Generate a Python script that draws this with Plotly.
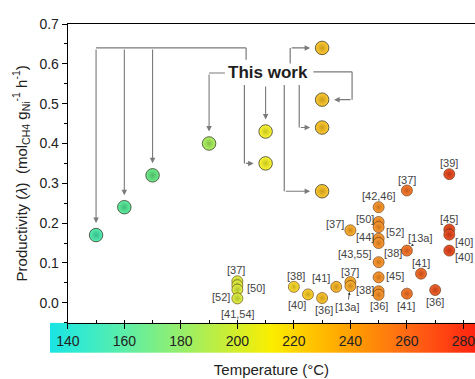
import numpy as np
import plotly.graph_objects as go

# ---------------- data ----------------
# "This work" catalysts: temperature (°C) and productivity
tw_T = [150, 160, 170, 190, 210, 210, 230, 230, 230, 230]
tw_v = [0.17, 0.24, 0.32, 0.40, 0.43, 0.35, 0.64, 0.51, 0.44, 0.28]

# literature catalysts
lit_T = [200, 200, 200, 200, 220, 225, 230, 235, 240, 240, 240,
         250, 250, 250, 250, 250, 250, 250, 250, 250,
         260, 260, 265, 260, 270, 275, 275, 275, 275]
lit_v = [0.054, 0.044, 0.033, 0.011, 0.040, 0.021, 0.012, 0.040, 0.052, 0.042, 0.182,
         0.240, 0.203, 0.190, 0.161, 0.150, 0.102, 0.064, 0.029, 0.020,
         0.282, 0.131, 0.073, 0.023, 0.032, 0.323, 0.184, 0.171, 0.131]

# reference labels: index of literature point, label text
label_point = [0, 1, 2, 3, 4, 5, 6, 7, 8, 9, 10,
               11, 12, 13, 14, 16, 17, 18, 19,
               20, 21, 21, 22, 23, 24, 25, 26, 27, 28]
label_text = ['[37]', '[50]', '[52]', '[41,54]', '[38]', '[40]', '[36]', '[41]', '[37]', '[13a]', '[37]',
              '[42,46]', '[50]', '[52]', '[44]', '[43,55]', '[45]', '[38]', '[36]',
              '[37]', '[38]', '[13a]', '[41]', '[41]', '[36]', '[39]', '[45]', '[40]', '[40]']

x_ticks = [140, 160, 180, 200, 220, 240, 260, 280]
y_ticks = [0.0, 0.1, 0.2, 0.3, 0.4, 0.5, 0.6, 0.7]

# ---------------- styling / layout ----------------
# label offsets in px (dx right, dy down, arrow?)
label_offset = [(-1, -11, 0), (19, 3, 0), (-16, 7, 0), (1, 16, 0), (2, -11, 0), (-11, 11, 0),
                (2, 11.5, 0), (-15, -9, 0), (0, -10, 0), (-3, 21, 1), (-15, -6, 0),
                (0, -11, 0), (-14, -3, 0), (16, 5, 0), (-14, -2, 0), (-24, -8, 1), (16, -1, 0),
                (-14, -1, 0), (0, 11, 0),
                (0, -10, 0), (-14, 2, 0), (13, -13, 1), (0, -11, 0), (-1, 12.5, 0), (0, 12, 0),
                (0, -11, 0), (0, -11, 0), (15, 7, 0), (15, 6, 0)]

X_LO, X_HI = 140, 284.1
STRIP_LO = 133.7
W, H = 475, 379
ML, MR, MT, MB = 50, 0, 24, 26
plot_w = W - ML - MR
plot_h = H - MT - MB
x_dom0 = (67.8 - ML) / plot_w
strip_frac = 30.3 / plot_h

marker_stops = [(140, '#36d8b4'), (150, '#3ed69a'), (160, '#48d68a'), (170, '#58d474'),
                (190, '#98dc50'), (200, '#c8dc30'), (210, '#e4e020'), (220, '#e8c81e'),
                (230, '#e8b21c'), (240, '#e89c1e'), (250, '#e8841e'), (260, '#e2661c'),
                (270, '#da4c18'), (280, '#d22c10')]

strip_stops = [(STRIP_LO, '#1ae4e4'), (145, '#34eace'), (160, '#5ceea8'), (180, '#96ee6c'),
               (200, '#d4ee2a'), (212, '#faee00'), (225, '#ffc800'), (240, '#ffa000'),
               (260, '#ff6a14'), (X_HI, '#ff2410')]
strip_scale = [[(t - STRIP_LO) / (X_HI - STRIP_LO), c] for t, c in strip_stops]


def hex2rgb(h):
    h = h.lstrip('#')
    return [int(h[i:i + 2], 16) for i in (0, 2, 4)]


def temp_color(t, scale_f=1.0, lift=0):
    ts = [s[0] for s in marker_stops]
    rgb = np.array([hex2rgb(s[1]) for s in marker_stops], dtype=float)
    c = [np.interp(t, ts, rgb[:, k]) for k in range(3)]
    c = [min(255, max(0, v * scale_f + lift)) for v in c]
    return 'rgb(%d,%d,%d)' % tuple(int(round(v)) for v in c)


FONT = 'Arial, Liberation Sans, sans-serif'
GRAY = '#7a7a7a'

fig = go.Figure()

# colour strip (first subplot, so the main axes draw on top of it)
strip_T = np.linspace(STRIP_LO, X_HI, 301)
fig.add_trace(go.Heatmap(x=strip_T, y=[0], z=[strip_T], colorscale=strip_scale,
                         zmin=STRIP_LO, zmax=X_HI, showscale=False,
                         xaxis='x', yaxis='y', hoverinfo='skip'))

for T, V, size, edge in ((lit_T, lit_v, 11, 'rgba(90,50,10,0.6)'),
                         (tw_T, tw_v, 13.5, 'rgba(50,50,30,0.75)')):
    fig.add_trace(go.Scatter(
        x=T, y=V, mode='markers', hoverinfo='skip', xaxis='x2', yaxis='y2',
        marker=dict(size=size,
                    color=[temp_color(t, 1.0, 25) for t in T],
                    gradient=dict(type='radial', color=[temp_color(t, 0.88) for t in T]),
                    line=dict(color=edge, width=1))))

# reference labels
for k, (pi, txt) in enumerate(zip(label_point, label_text)):
    dx, dy, arr = label_offset[k]
    if arr:
        fig.add_annotation(x=lit_T[pi], y=lit_v[pi], xref='x2', yref='y2', text=txt, showarrow=True,
                           ax=dx, ay=dy, standoff=6, arrowhead=2, arrowsize=0.7,
                           arrowwidth=0.8, arrowcolor='#333',
                           font=dict(size=11, color='#444', family=FONT))
    else:
        fig.add_annotation(x=lit_T[pi], y=lit_v[pi], xref='x2', yref='y2', text=txt, showarrow=False,
                           xshift=dx, yshift=-dy,
                           font=dict(size=11, color='#444', family=FONT))

# "This work" callout
TXT_T, TXT_V = 211.0, 0.577
fig.add_annotation(x=TXT_T, y=TXT_V, xref='x2', yref='y2', text='<b>This work</b>', showarrow=False,
                   font=dict(size=17, color='#1e1e1e', family=FONT))

shapes = []
def seg(x0, y0, x1, y1):
    shapes.append(dict(type='line', xref='x2', yref='y2', x0=x0, y0=y0, x1=x1, y1=y1,
                       line=dict(color=GRAY, width=1.2), layer='below'))

def arrow(i, ax, ay):
    fig.add_annotation(x=tw_T[i], y=tw_v[i], ax=ax, ay=ay, xref='x2', yref='y2',
                       axref='x2', ayref='y2',
                       text='', showarrow=True, standoff=12, arrowhead=2, arrowsize=1,
                       arrowwidth=1.1, arrowcolor=GRAY)

TOP = 0.64
DROP_T = 203.1
BELOW = 0.547
seg(tw_T[0], TOP, DROP_T, TOP)
seg(DROP_T, TOP, DROP_T, 0.61)
for i in (0, 1, 2):
    arrow(i, tw_T[i], TOP)
seg(195.6, TXT_V, tw_T[3], TXT_V)
arrow(3, tw_T[3], TXT_V)
seg(202.5, BELOW, 202.5, tw_v[5])
arrow(5, 202.5, tw_v[5])
arrow(4, tw_T[4], BELOW)
seg(216.6, BELOW, 216.6, tw_v[9])
arrow(9, 216.6, tw_v[9])
seg(221.9, BELOW, 221.9, tw_v[8])
arrow(8, 221.9, tw_v[8])
seg(218.7, 0.601, 218.7, tw_v[6])
arrow(6, 218.7, tw_v[6])
seg(226.9, 0.58, 240.6, 0.58)
seg(240.6, 0.58, 240.6, tw_v[7])
arrow(7, 240.6, tw_v[7])

fig.update_layout(
    width=W, height=H,
    margin=dict(l=ML, r=MR, t=MT, b=MB),
    paper_bgcolor='white', plot_bgcolor='rgba(0,0,0,0)',
    showlegend=False,
    shapes=shapes,
    font=dict(family=FONT, color='#222'),
    xaxis=dict(domain=[0, 1], range=[STRIP_LO, X_HI], anchor='y', visible=False,
               showticklabels=False, ticks=''),
    yaxis=dict(domain=[0, strip_frac], range=[-0.5, 0.5], anchor='x', visible=False,
               showticklabels=False, ticks=''),
    xaxis2=dict(domain=[x_dom0, 1], range=[X_LO, X_HI], anchor='y2',
                tickvals=x_ticks, ticks='outside', ticklen=5, tickwidth=1, tickcolor='black',
                minor=dict(dtick=10, tick0=0, ticks='inside', ticklen=3, tickcolor='black'),
                showline=True, linecolor='black', linewidth=1.3, mirror=True,
                showgrid=False, zeroline=False, automargin=False,
                ticklabeloverflow='allow',
                tickfont=dict(size=14, color='#222'),
                title=dict(text='Temperature (°C)', font=dict(size=15, color='#222'), standoff=16)),
    yaxis2=dict(domain=[strip_frac, 1], range=[-0.05, 0.7], anchor='x2',
                tickvals=y_ticks, tickformat='.1f', ticks='outside', ticklen=5, tickcolor='black',
                minor=dict(dtick=0.05, tick0=0, ticks='outside', ticklen=3, tickcolor='black'),
                showline=True, linecolor='black', linewidth=1.3,
                showgrid=False, zeroline=False, automargin=False,
                tickfont=dict(size=14, color='#222'),
                title=dict(text='Productivity (<i>λ</i>)  (mol<sub>CH4</sub> g<sub>Ni</sub><sup>-1</sup> h<sup>-1</sup>)',
                           font=dict(size=15, color='#222'), standoff=8)),
)

fig.write_html('out.html')
